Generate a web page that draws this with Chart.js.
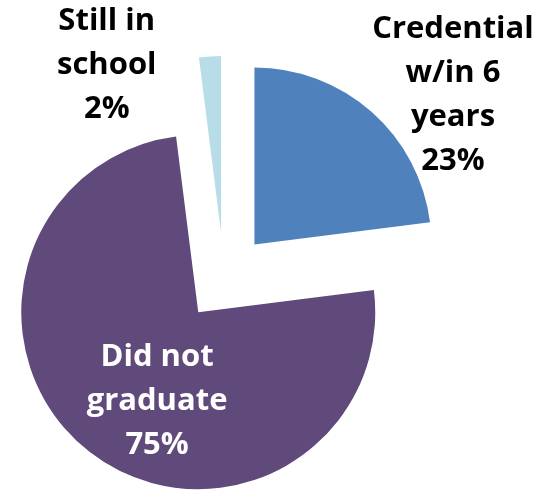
<!DOCTYPE html>
<html lang="en">
<head>
<meta charset="UTF-8">
<title>Six-year outcomes</title>
<script src="https://cdn.jsdelivr.net/npm/chart.js"></script>
<style>
    html, body { margin: 0; padding: 0; background: #FFFFFF; }
    .pie-box { width: 550px; height: 495px; position: relative; }
</style>
</head>
<body>
<div class="pie-box"><canvas id="outcomePie"></canvas></div>
<script>
// data, in Excel's order (starts at 12 o'clock, clockwise)
const categories = [['Credential', 'w/in 6', 'years'], ['Did not', 'graduate'], ['Still in', 'school']];
const shares = [23, 75, 2];

const sliceColors = ['#4F81BD', '#604A7B', '#B7DEE8'];
const explode = [46, 42, 46]; // how far each slice is pulled out, px

// label block centre: angle (deg clockwise from top) and distance in radii from pie centre
const labelAngle = [50.9, 209.2, 331.5];
const labelDist = [1.667, 0.775, 1.388];
const labelColor = ['#000000', '#FFFFFF', '#000000'];
const labelFont = 'bold 31px "Open Sans"';
const lineGap = 44;

const explodedSlices = {
    id: 'explodedSlices',
    beforeDatasetDraw(chart, args) {
        const ctx = chart.ctx;
        args.meta.data.forEach((arc, i) => {
            const mid = (arc.startAngle + arc.endAngle) / 2;
            ctx.save();
            ctx.translate(Math.cos(mid) * explode[i], Math.sin(mid) * explode[i]);
            arc.draw(ctx);
            ctx.restore();
        });
        return false; // skip the default draw
    },
    afterDraw(chart) {
        const ctx = chart.ctx;
        const first = chart.getDatasetMeta(0).data[0];
        const cx = first.x, cy = first.y, r = first.outerRadius;
        ctx.save();
        ctx.font = labelFont;
        ctx.textAlign = 'center';
        ctx.textBaseline = 'alphabetic';
        categories.forEach((lines, i) => {
            const all = lines.concat([shares[i] + '%']);
            const a = labelAngle[i] * Math.PI / 180;
            const x = cx + Math.sin(a) * r * labelDist[i];
            const y = cy - Math.cos(a) * r * labelDist[i];
            ctx.fillStyle = labelColor[i];
            all.forEach((t, k) => {
                const ly = y + (k - (all.length - 1) / 2) * lineGap + 11;
                ctx.fillText(t, x, ly);
            });
        });
        ctx.restore();
    }
};

new Chart(document.getElementById('outcomePie'), {
    type: 'pie',
    data: {
        labels: categories.map(c => c.join(' ')),
        datasets: [{
            data: shares,
            backgroundColor: sliceColors,
            borderWidth: 0
        }]
    },
    options: {
        responsive: true,
        maintainAspectRatio: false,
        animation: false,
        radius: 177,
        layout: { padding: { left: 0, right: 102, top: 63, bottom: 0 } },
        plugins: {
            legend: { display: false },
            tooltip: { enabled: false }
        }
    },
    plugins: [explodedSlices]
});
</script>
</body>
</html>
